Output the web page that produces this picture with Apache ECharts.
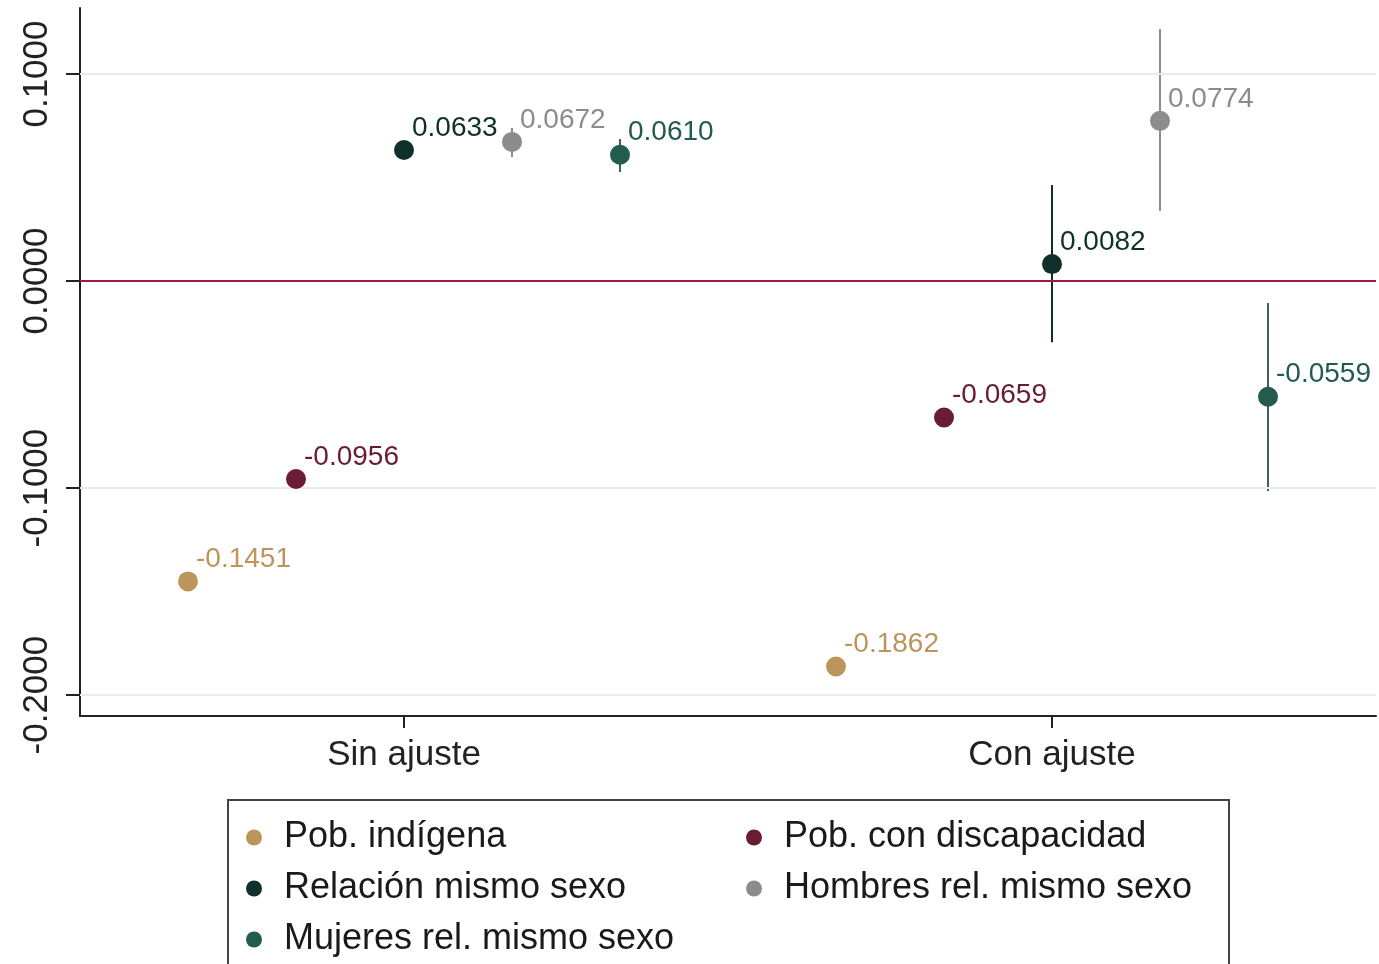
<!DOCTYPE html>
<html>
<head>
<meta charset="utf-8">
<script src="https://cdn.jsdelivr.net/npm/echarts@6/dist/echarts.min.js"></script>
<style>
html,body{margin:0;padding:0;background:#fff;}
#chart{width:1379px;height:964px;}
</style>
</head>
<body>
<div id="chart"></div>
<script>
// ---- data ----
const categories = ['Sin ajuste', 'Con ajuste'];
const seriesNames = ['Pob. indígena', 'Pob. con discapacidad', 'Relación mismo sexo', 'Hombres rel. mismo sexo', 'Mujeres rel. mismo sexo'];
const indigena = [-0.1451, -0.1862];
const discapacidad = [-0.0956, -0.0659];
const relacion = [0.0633, 0.0082];
const hombres = [0.0672, 0.0774];
const mujeres = [0.0610, -0.0559];
// confidence intervals [lower, upper] per category
const indigenaCI = [[-0.1481, -0.1421], [-0.1902, -0.1822]];
const discapacidadCI = [[-0.0986, -0.0926], [-0.0699, -0.0619]];
const relacionCI = [[0.0595, 0.0671], [-0.0295, 0.0464]];
const hombresCI = [[0.0599, 0.0739], [0.0338, 0.1217]];
const mujeresCI = [[0.0527, 0.0686], [-0.1014, -0.0106]];
const yTicks = [-0.2, -0.1, 0, 0.1];

// ---- styling ----
const colors = ['#BC955C', '#691C32', '#10312B', '#8C8C8C', '#235B4E'];
const barColors = ['#BC955C', '#691C32', '#10312B', '#8C8C8C', '#3F5F57'];
const estimates = [indigena, discapacidad, relacion, hombres, mujeres];
const cis = [indigenaCI, discapacidadCI, relacionCI, hombresCI, mujeresCI];
const offsets = [-2 / 6, -1 / 6, 0, 1 / 6, 2 / 6];
const FONT = '"Liberation Sans", Arial, Helvetica, sans-serif';

const series = [];
estimates.forEach((vals, k) => {
  series.push({
    name: seriesNames[k] + ' IC',
    type: 'custom',
    z: 3,
    silent: true,
    data: vals.map((v, i) => [i + 1 + offsets[k], cis[k][i][0], cis[k][i][1]]),
    renderItem: function (params, api) {
      const x = api.value(0);
      const p1 = api.coord([x, api.value(1)]);
      const p2 = api.coord([x, api.value(2)]);
      return {
        type: 'line',
        shape: { x1: p1[0], y1: p1[1], x2: p2[0], y2: p2[1] },
        style: { stroke: barColors[k], lineWidth: 2 }
      };
    }
  });
});
estimates.forEach((vals, k) => {
  const s = {
    name: seriesNames[k],
    type: 'scatter',
    z: 5,
    symbol: 'circle',
    symbolSize: 20,
    itemStyle: { color: colors[k], opacity: 1 },
    data: vals.map((v, i) => [i + 1 + offsets[k], v]),
    label: {
      show: true,
      position: 'right',
      distance: 0,
      offset: [-2, -22],
      formatter: p => p.value[1].toFixed(4),
      color: colors[k],
      fontFamily: FONT,
      fontSize: 28
    }
  };
  if (k === 0) {
    s.markLine = {
      silent: true,
      symbol: ['none', 'none'],
      label: { show: false },
      animation: false,
      data: yTicks.map(t => ({
        yAxis: t,
        lineStyle: t === 0
          ? { color: '#A3163F', width: 2, type: 'solid' }
          : { color: '#EBEBEB', width: 2, type: 'solid' }
      }))
    };
  }
  series.push(s);
});

const chart = echarts.init(document.getElementById('chart'));
chart.setOption({
  animation: false,
  backgroundColor: '#fff',
  grid: { left: 80, right: 3, top: 8, bottom: 248, containLabel: false },
  xAxis: {
    type: 'value',
    min: 0.5,
    max: 2.5,
    axisLine: { show: true, onZero: false, lineStyle: { color: '#222', width: 2 } },
    axisTick: { show: true, length: 12, customValues: [1, 2], lineStyle: { color: '#222', width: 2 } },
    axisLabel: {
      show: true,
      customValues: [1, 2],
      formatter: v => categories[Math.round(v) - 1],
      margin: 22,
      fontSize: 35,
      fontFamily: FONT,
      color: '#222'
    },
    splitLine: { show: false }
  },
  yAxis: {
    type: 'value',
    min: -0.2101,
    max: 0.1319,
    axisLine: { show: true, onZero: false, lineStyle: { color: '#222', width: 2 } },
    axisTick: { show: true, length: 14, customValues: yTicks, lineStyle: { color: '#222', width: 2 } },
    axisLabel: {
      show: true,
      customValues: yTicks,
      rotate: 90,
      formatter: v => v.toFixed(4),
      margin: 25,
      fontSize: 35,
      fontFamily: FONT,
      color: '#222'
    },
    splitLine: { show: false }
  },
  legend: {
    data: seriesNames.map((n, i) => ({
      name: n,
      textStyle: { width: i % 2 === 0 ? 452 : 434 }
    })),
    left: 228,
    top: 800,
    width: 1000,
    orient: 'horizontal',
    padding: [17, 11, 20, 18],
    itemGap: 10,
    itemWidth: 50,
    itemHeight: 16,
    icon: 'circle',
    borderColor: '#444',
    borderWidth: 2,
    textStyle: {
      fontSize: 36,
      fontFamily: FONT,
      color: '#1a1a1a',
      width: 452,
      lineHeight: 41
    }
  },
  series: series
});
</script>
</body>
</html>
